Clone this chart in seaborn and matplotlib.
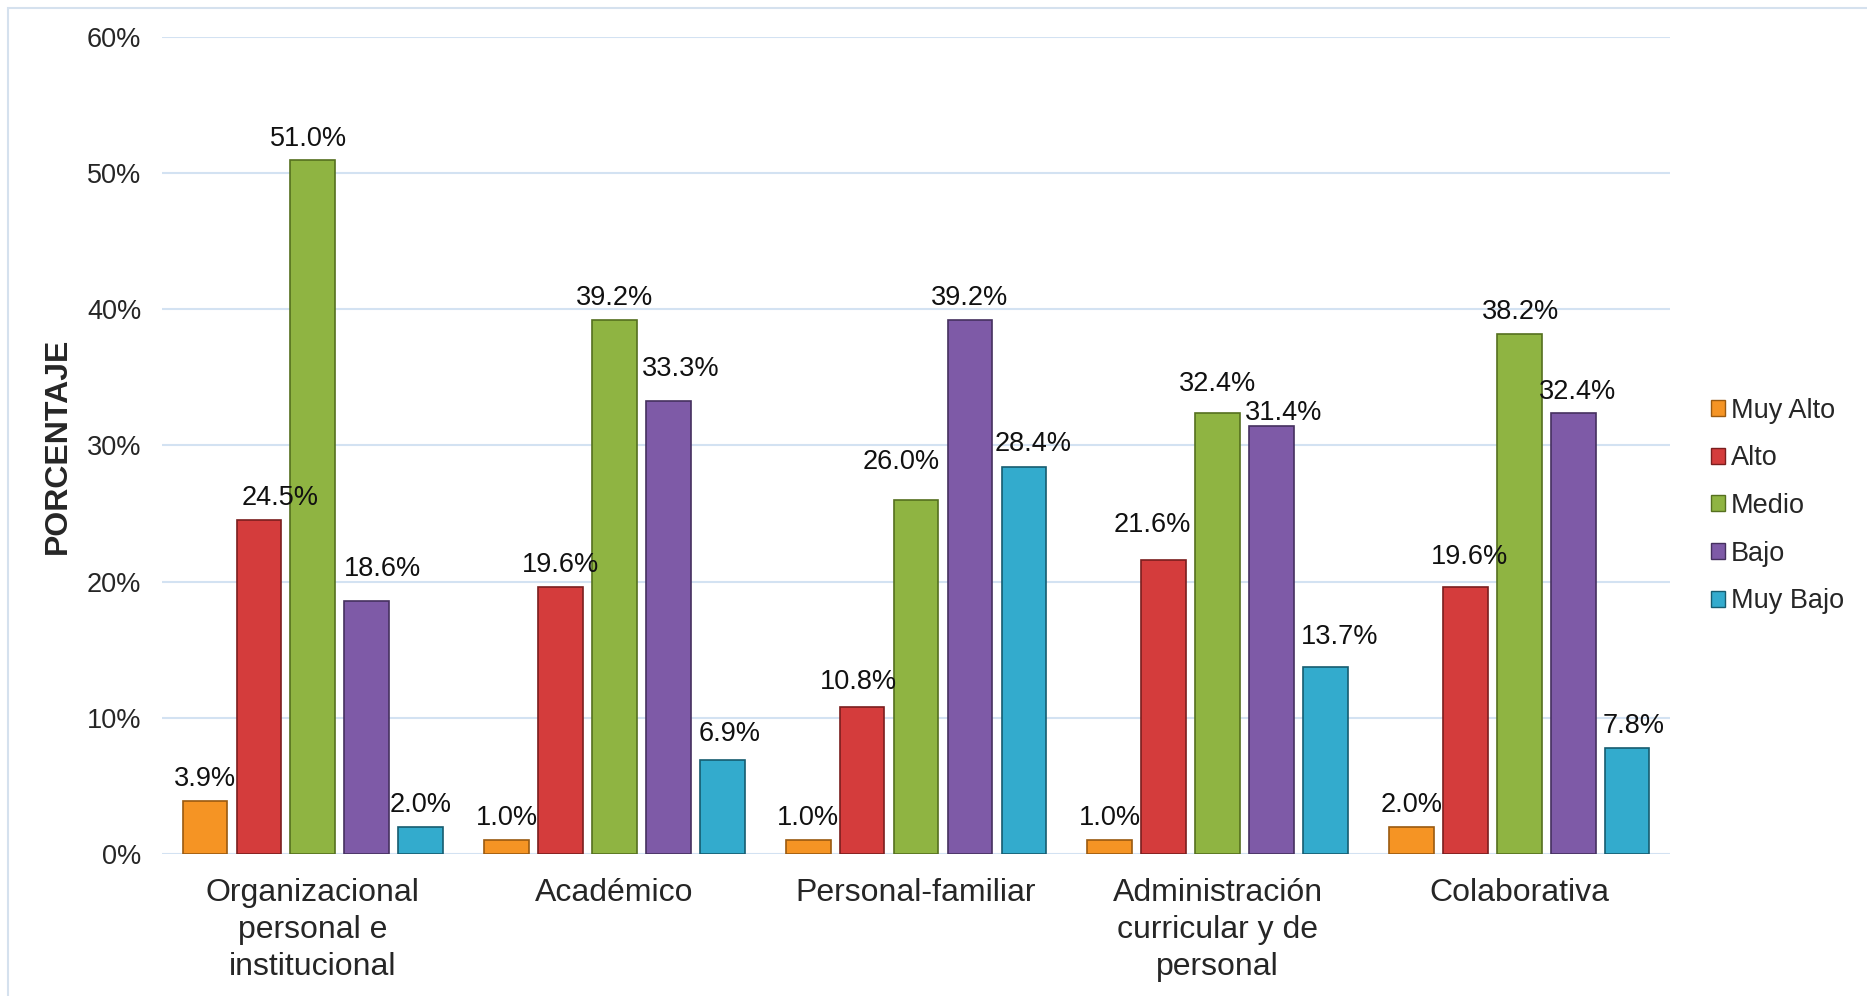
import matplotlib
matplotlib.use("Agg")
import matplotlib.pyplot as plt
from matplotlib.patches import Rectangle
import seaborn as sns
import pandas as pd

# Dimensiones evaluadas y niveles de la escala
categorias = [
    "Organizacional\npersonal e\ninstitucional",
    "Académico",
    "Personal-familiar",
    "Administración\ncurricular y de\npersonal",
    "Colaborativa",
]
niveles = ["Muy Alto", "Alto", "Medio", "Bajo", "Muy Bajo"]

# Porcentajes por nivel (en el orden de las categorías)
muy_alto = [3.9, 1.0, 1.0, 1.0, 2.0]
alto = [24.5, 19.6, 10.8, 21.6, 19.6]
medio = [51.0, 39.2, 26.0, 32.4, 38.2]
bajo = [18.6, 33.3, 39.2, 31.4, 32.4]
muy_bajo = [2.0, 6.9, 28.4, 13.7, 7.8]

colores = ["#F59424", "#D43C3C", "#8FB442", "#7E5AA7", "#33ABCD"]
bordes = ["#9A5A10", "#7A1E1E", "#55701F", "#45305F", "#165C70"]

# Desplazamientos (pt) de las etiquetas para que no se encimen
desp_x = [
    [0, 15, -3, 11, 0],
    [0, 0, 0, 9, 5],
    [0, -3, -11, 0, 7],
    [0, -8, 0, 9, 10],
    [0, 3, 1, 3, 5],
]
desp_y = [
    [0, 0, -1, 7, 0],
    [0, 0, 0, 7, 3],
    [0, 2, 11, 0, 1],
    [0, 9, 5, -6, 6],
    [0, 6, 0, -1, 0],
]

series = [muy_alto, alto, medio, bajo, muy_bajo]
filas = []
for nivel, valores in zip(niveles, series):
    for cat, v in zip(categorias, valores):
        filas.append({"Dimensión": cat, "Nivel": nivel, "Porcentaje": v})
df = pd.DataFrame(filas)

sns.set_theme(style="white")
plt.rcParams["font.family"] = ["Liberation Sans", "DejaVu Sans"]

fig = plt.figure(figsize=(18.67, 9.96), dpi=100)
ax = fig.add_axes([0.0868, 0.1426, 0.8077, 0.8203])

sns.barplot(
    data=df, x="Dimensión", y="Porcentaje", hue="Nivel",
    order=categorias, hue_order=niveles, palette=colores, saturation=1,
    width=0.894, gap=0.17, ax=ax, legend=False, errorbar=None,
    linewidth=1.2,
)

for j, (cont, ec) in enumerate(zip(ax.containers, bordes)):
    for i, patch in enumerate(cont):
        patch.set_edgecolor(ec)
        patch.set_zorder(3)
        h = patch.get_height()
        ax.annotate(f"{h:.1f}%",
                    xy=(patch.get_x() + patch.get_width() / 2, h),
                    xytext=(desp_x[i][j], 16 + desp_y[i][j]),
                    textcoords="offset points", ha="center", va="center",
                    fontsize=19.5, color="#111111")

ax.set_ylim(0, 60)
ax.set_xlim(-0.5, 4.5)
ax.set_yticks(range(0, 61, 10))
ax.set_yticklabels([f"{t}%" for t in range(0, 61, 10)], fontsize=19.5)
ax.tick_params(axis="y", length=0, pad=15)
ax.tick_params(axis="x", length=0, pad=17, labelsize=23)
for lab in ax.get_xticklabels():
    lab.set_linespacing(1.32)

ax.set_xlabel("")
ax.set_ylabel("PORCENTAJE", fontsize=23, fontweight="bold", labelpad=10)
ax.yaxis.grid(True, color="#D3E2F2", linewidth=1.5, zorder=0)
ax.set_axisbelow(True)
for s in ax.spines.values():
    s.set_visible(False)

# Leyenda con marcadores cuadrados
handles = [plt.Rectangle((0, 0), 1, 1, facecolor=c, edgecolor=e, linewidth=1)
           for c, e in zip(colores, bordes)]
fig.legend(handles, niveles, loc="center left", bbox_to_anchor=(0.9165, 0.492),
           frameon=False, fontsize=19.5, handlelength=0.52, handleheight=0.52,
           handletextpad=0.22, labelspacing=0.8, borderpad=0, borderaxespad=0)

# Marco del área del gráfico
fig.patches.append(Rectangle((8 / 1867, -0.05), 1.2, 1 - 8 / 996 + 0.05,
                             transform=fig.transFigure, fill=False,
                             edgecolor="#D5E1EE", linewidth=1.5))

fig.savefig("out.png", dpi=100)
